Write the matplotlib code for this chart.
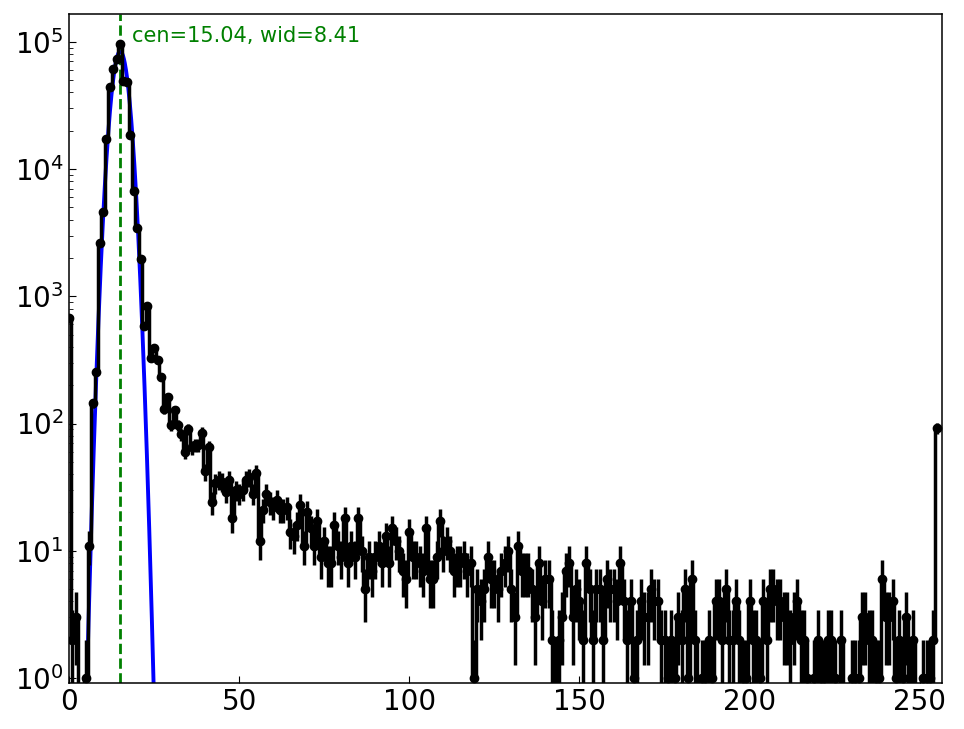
import numpy as np
import matplotlib
matplotlib.use("Agg")
import matplotlib.pyplot as plt
from matplotlib.ticker import LogLocator, NullFormatter

# histogram counts per bin (bins 0..255)
counts = [
    675, 2, 3, 0, 0, 1, 11, 145, 255, 2610,
    4630, 17200, 44300, 60500, 73400, 95200, 49000, 48500, 18600, 6750,
    3430, 1970, 584, 840, 325, 390, 315, 233, 131, 162,
    97, 127, 97, 82, 60, 90, 65, 68, 68, 85,
    42, 65, 24, 34, 36, 35, 29, 36, 18, 30,
    28, 30, 36, 38, 28, 41, 12, 21, 28, 24,
    22, 25, 21, 21, 22, 14, 13, 16, 23, 11,
    20, 15, 11, 17, 9, 12, 8, 8, 16, 11,
    9, 18, 8, 11, 9, 18, 10, 5, 9, 7,
    9, 11, 8, 13, 8, 15, 12, 10, 7, 6,
    14, 9, 9, 8, 7, 15, 6, 6, 9, 17,
    10, 12, 10, 7, 8, 8, 9, 7, 8, 1,
    5, 4, 5, 9, 6, 6, 5, 7, 8, 10,
    5, 3, 11, 7, 7, 7, 5, 3, 8, 4,
    6, 6, 2, 0, 2, 3, 7, 8, 3, 5,
    4, 2, 8, 5, 2, 5, 5, 2, 6, 5,
    5, 4, 8, 4, 2, 4, 1, 2, 4, 3,
    3, 5, 4, 4, 2, 2, 1, 2, 1, 3,
    2, 5, 1, 6, 2, 0, 1, 1, 2, 1,
    4, 4, 2, 5, 2, 2, 4, 2, 1, 1,
    4, 2, 2, 1, 4, 2, 5, 5, 4, 4,
    3, 3, 2, 3, 4, 2, 2, 1, 0, 1,
    2, 1, 1, 2, 2, 1, 0, 2, 0, 0,
    1, 1, 1, 3, 3, 2, 2, 1, 1, 6,
    3, 3, 4, 1, 2, 1, 3, 0, 2, 0,
    0, 1, 1, 1, 2, 92,
]
bins = np.arange(len(counts))

# gaussian fit parameters
fit_cen = 15.04
fit_wid = 8.41
fit_amp = 84000.0

y = np.array(counts, dtype=float)
yerr = np.sqrt(y)

fig = plt.figure(figsize=(9.64, 7.29), dpi=100)
ax = fig.add_axes([0.0711, 0.0627, 0.9767 - 0.0711, 0.9808 - 0.0627])
ax.set_yscale("log")

xf = np.linspace(0, 256, 3000)
yf = fit_amp * np.exp(-(xf - fit_cen) ** 2 / fit_wid)
ax.plot(xf, yf, color="blue", lw=2.8, zorder=2)

ax.axvline(fit_cen, color="green", ls="--", lw=2, zorder=2.5)

ax.errorbar(bins, y, yerr=yerr, fmt="o-", color="black", ms=6, lw=2.5,
            elinewidth=2.5, capsize=0, drawstyle="steps-mid", zorder=3)

ax.text(fit_cen + 3.6, 1.1e5, "cen=%.2f, wid=%.2f" % (fit_cen, fit_wid),
        color="green", fontsize=15, va="center", ha="left")

ax.set_xlim(-0.15, 256.4)
ax.set_ylim(0.91, 1.65e5)
ax.set_xticks([0, 50, 100, 150, 200, 250])
ax.yaxis.set_major_locator(LogLocator(base=10, numticks=10))
ax.yaxis.set_minor_locator(LogLocator(base=10, subs=np.arange(2, 10), numticks=20))
ax.yaxis.set_minor_formatter(NullFormatter())
ax.tick_params(which="major", direction="in", length=5, labelsize=20,
               top=False, right=False)
ax.tick_params(which="minor", direction="in", length=3, top=False, right=False)
for s in ax.spines.values():
    s.set_linewidth(1.1)

fig.savefig("out.png", dpi=100)
